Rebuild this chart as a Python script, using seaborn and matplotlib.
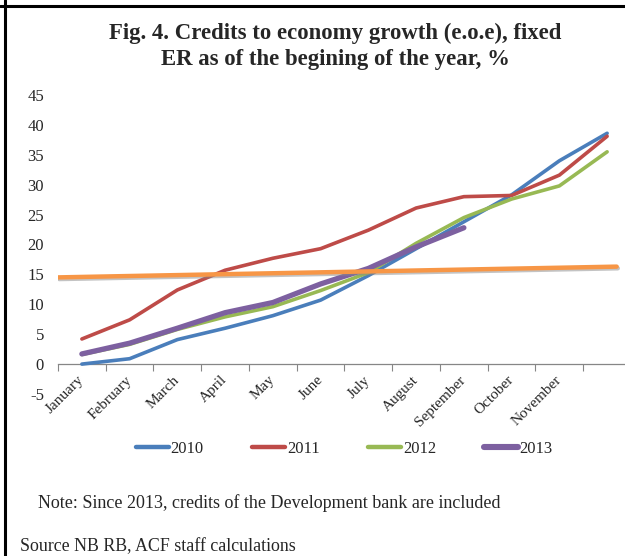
import numpy as np
import pandas as pd
import matplotlib
matplotlib.use("Agg")
import matplotlib.pyplot as plt
import matplotlib.patheffects as pe
from matplotlib.lines import Line2D
import seaborn as sns

# Month categories (the last one carries no label)
months = ["January", "February", "March", "April", "May", "June", "July",
          "August", "September", "October", "November", ""]

# Cumulative credit growth since the start of the year, %
s2010 = [0.0, 0.9, 4.1, 6.0, 8.1, 10.7, 14.8, 19.3, 23.8, 28.3, 34.0, 38.6]
s2011 = [4.2, 7.4, 12.4, 15.7, 17.7, 19.3, 22.4, 26.1, 28.0, 28.2, 31.6, 38.1]
s2012 = [1.6, 3.3, 5.8, 7.9, 9.6, 12.3, 15.3, 20.2, 24.5, 27.6, 29.8, 35.5]
s2013 = [1.7, 3.5, 6.0, 8.6, 10.3, 13.4, 16.0, 19.6, 22.8]

# Reference line (start and end of the straight orange line)
ref_x = [-0.5, 11.2]
ref_y = [14.5, 16.3]

series = {"2010": s2010, "2011": s2011, "2012": s2012, "2013": s2013}
colors = {"2010": "#4A7EBB", "2011": "#BE4B48", "2012": "#98B954", "2013": "#7D60A0"}
widths = {"2010": 2.6, "2011": 2.6, "2012": 2.6, "2013": 3.8}

rows = []
for name, vals in series.items():
    for i, v in enumerate(vals):
        rows.append({"year": name, "pos": i, "value": v})
df = pd.DataFrame(rows)
ref_df = pd.DataFrame({"pos": ref_x, "value": ref_y})

sns.set_theme(style="white")
plt.rcParams["font.family"] = ["Liberation Serif", "DejaVu Serif"]
plt.rcParams["axes.unicode_minus"] = False

fig = plt.figure(figsize=(6.25, 5.56), dpi=100)
ax = fig.add_axes([58 / 625, 1 - 394 / 556, 573 / 625, (394 - 95) / 556])

for name in series:
    sub = df[df["year"] == name]
    sns.lineplot(data=sub, x="pos", y="value", ax=ax, color=colors[name],
                 linewidth=widths[name], legend=False, zorder=3)

sns.lineplot(data=ref_df, x="pos", y="value", ax=ax, color="#F79646",
             linewidth=3.2, legend=False, zorder=4,
             path_effects=[pe.SimpleLineShadow(offset=(0.8, -1.2), shadow_color="#888888", alpha=0.5),
                           pe.Normal()])

ax.set_xlim(-0.5, len(months) - 0.5)
ax.set_ylim(-5, 45)
ax.set_xlabel("")
ax.set_ylabel("")

# Category centres carry the labels, category boundaries carry the tick marks
ax.tick_params(axis="x", which="major", length=0, pad=10, labelsize=11)
ax.tick_params(axis="x", which="minor", direction="out", length=5, width=0.8,
               color="#868686", bottom=True)
ax.set_xticks(np.arange(len(months)))
ax.set_xticklabels(months)
ax.set_xticks(np.arange(-0.5, len(months), 1.0), minor=True)

ax.set_yticks(np.arange(-5, 46, 5))
ax.tick_params(axis="y", length=0, labelsize=12, pad=10)

for side in ["left", "right", "top"]:
    ax.spines[side].set_visible(False)
ax.spines["bottom"].set_position(("data", 0))
ax.spines["bottom"].set_color("#868686")
ax.spines["bottom"].set_linewidth(0.9)
ax.grid(False)

fig.text(335 / 625, 1 - 46 / 556,
         "Fig. 4. Credits to economy growth (e.o.e), fixed\nER as of the begining of the year, %",
         ha="center", va="center", fontsize=16.4, fontweight="bold", linespacing=1.32)

handles = [Line2D([], [], color=colors[n], linewidth=widths[n] + 0.6) for n in series]
fig.legend(handles, list(series.keys()), loc="center", ncol=4,
           bbox_to_anchor=(344 / 625, 1 - 449 / 556), frameon=False,
           fontsize=12, handlelength=2.0, handletextpad=0.1, columnspacing=2.9)

fig.text(38 / 625, 1 - 503 / 556,
         "Note: Since 2013, credits of the Development bank are included",
         ha="left", va="center", fontsize=13)
fig.text(20 / 625, 1 - 547 / 556, "Source NB RB, ACF staff calculations",
         ha="left", va="center", fontsize=12.9)

# Cell borders
fig.add_artist(Line2D([5 / 625, 5 / 625], [0, 1], color="black", linewidth=2.2,
                      transform=fig.transFigure))
fig.add_artist(Line2D([0, 1], [1 - 5.5 / 556, 1 - 5.5 / 556], color="black", linewidth=2.2,
                      transform=fig.transFigure))


def slant_month_labels():
    for lab in ax.get_xticklabels():
        lab.set_rotation(45)
        lab.set_horizontalalignment("right")
        lab.set_verticalalignment("center")
        lab.set_rotation_mode("anchor")


slant_month_labels()
fig.canvas.draw()
slant_month_labels()

fig.savefig("out.png", dpi=100, facecolor="white")
